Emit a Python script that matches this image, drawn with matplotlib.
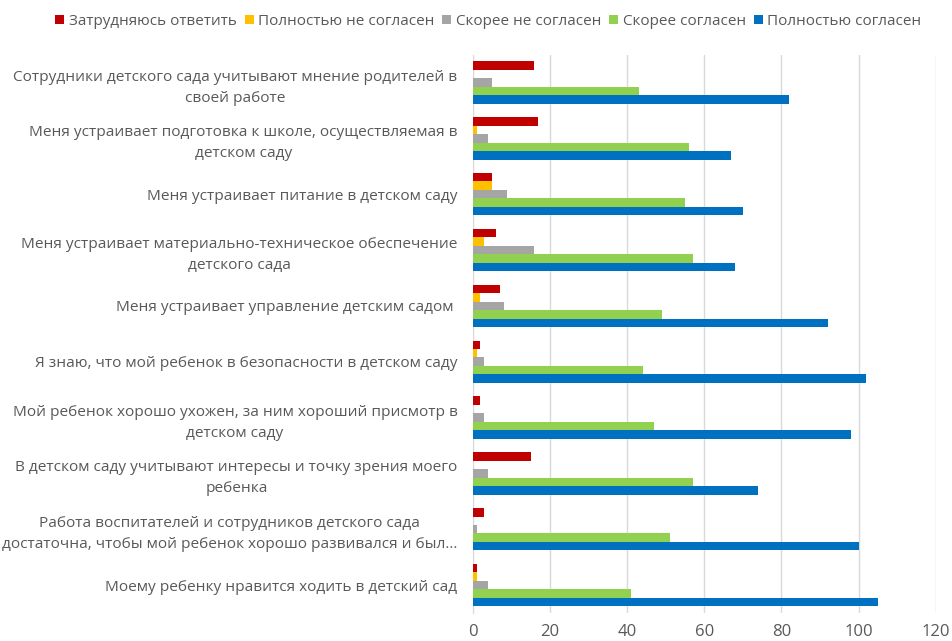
import numpy as np
import matplotlib
matplotlib.use('Agg')
import matplotlib.pyplot as plt

# data, top to bottom as in the picture
categories = [
    'Сотрудники детского сада учитывают мнение родителей в\nсвоей работе',
    'Меня устраивает подготовка к школе, осуществляемая в\nдетском саду',
    'Меня устраивает питание в детском саду',
    'Меня устраивает материально-техническое обеспечение\nдетского сада',
    'Меня устраивает управление детским садом ',
    'Я знаю, что мой ребенок в безопасности в детском саду',
    'Мой ребенок хорошо ухожен, за ним хороший присмотр в\nдетском саду',
    'В детском саду учитывают интересы и точку зрения моего\nребенка',
    'Работа воспитателей и сотрудников детского сада\nдостаточна, чтобы мой ребенок хорошо развивался и был...',
    'Моему ребенку нравится ходить в детский сад',
]
hard_to_say = [16, 17, 5, 6, 7, 2, 2, 15, 3, 1]
fully_disagree = [0, 1, 5, 3, 2, 1, 0, 0, 0, 1]
rather_disagree = [5, 4, 9, 16, 8, 3, 3, 4, 1, 4]
rather_agree = [43, 56, 55, 57, 49, 44, 47, 57, 51, 41]
fully_agree = [82, 67, 70, 68, 92, 102, 98, 74, 100, 105]

series = [
    ('Затрудняюсь ответить', hard_to_say, '#C00000'),
    ('Полностью не согласен', fully_disagree, '#FFC000'),
    ('Скорее не согласен', rather_disagree, '#A5A5A5'),
    ('Скорее согласен', rather_agree, '#92D050'),
    ('Полностью согласен', fully_agree, '#0070C0'),
]

text_col = '#595959'
plt.rcParams['font.family'] = ['Open Sans', 'DejaVu Sans']

fig = plt.figure(figsize=(9.52, 6.41), dpi=100)
ax = fig.add_axes([0.4966, 0.0437, 0.4863, 0.8711])

y = np.arange(len(categories))
h = 0.152
for i, (name, vals, col) in enumerate(series):
    ax.barh(y + (i - 2) * h, vals, height=h, color=col, label=name, zorder=3)

ax.set_ylim(len(categories) - 0.5, -0.5)
ax.set_xlim(0, 120)
ax.set_xticks(range(0, 121, 20))
ax.set_yticks(y)
ax.set_yticklabels(categories, ha='right', multialignment='center')
for lab in ax.get_yticklabels():
    lab.set_linespacing(1.55)
ax.tick_params(axis='y', length=0, pad=11, labelsize=11.1, labelcolor=text_col)
ax.tick_params(axis='x', length=0, pad=8, labelsize=12, labelcolor=text_col)
ax.grid(axis='x', color='#D9D9D9', linewidth=1, zorder=0)
for s in ['top', 'right', 'bottom']:
    ax.spines[s].set_visible(False)
ax.spines['left'].set_color('#D9D9D9')

fig.legend(loc='upper center', bbox_to_anchor=(0.513, 1.0), ncol=5, frameon=False,
           handlelength=0.6, handleheight=0.6, handletextpad=0.3, columnspacing=0.5,
           fontsize=11, labelcolor=text_col)

fig.savefig('out.png', dpi=100)
